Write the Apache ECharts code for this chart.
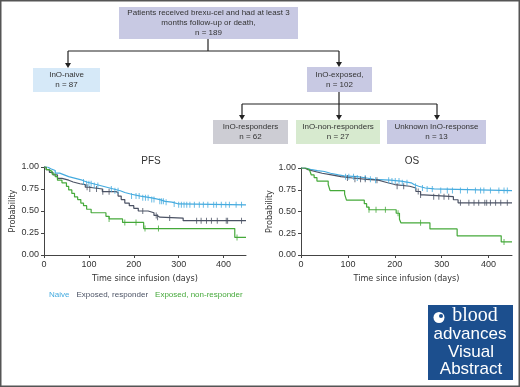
<!DOCTYPE html>
<html>
<head>
<meta charset="utf-8">
<script src="https://cdn.jsdelivr.net/npm/echarts@6/dist/echarts.min.js"></script>
<style>
  html, body { margin: 0; padding: 0; background: #fff; }
  #chart { width: 520px; height: 387px; }
</style>
</head>
<body>
<div id="chart"></div>
<script>
// 分组名称
const groupNames = ['Naive', 'Exposed, responder', 'Exposed, non-responder']
const groupColors = ['#45abdf', '#4b5264', '#45a93a']

// PFS 生存曲线 [天, 概率]
const pfsNaive = [[0, 1], [8, 0.98], [15, 0.96], [25, 0.93], [35, 0.91], [45, 0.89], [55, 0.87], [70, 0.85], [85, 0.83], [95, 0.81], [110, 0.79], [125, 0.77], [140, 0.75], [155, 0.73], [170, 0.71], [180, 0.69], [195, 0.67], [215, 0.65], [240, 0.63], [258, 0.61], [270, 0.60], [285, 0.58], [300, 0.57], [450, 0.57]]
const pfsResp = [[0, 1], [5, 0.97], [12, 0.94], [20, 0.91], [30, 0.87], [40, 0.85], [55, 0.83], [65, 0.81], [80, 0.80], [92, 0.77], [100, 0.75], [130, 0.72], [160, 0.71], [165, 0.67], [172, 0.63], [180, 0.59], [190, 0.56], [200, 0.53], [210, 0.50], [232, 0.48], [245, 0.45], [252, 0.43], [258, 0.42], [310, 0.39], [450, 0.39]]
const pfsNonResp = [[0, 1], [5, 0.97], [10, 0.95], [18, 0.92], [25, 0.89], [30, 0.85], [40, 0.82], [50, 0.78], [55, 0.74], [62, 0.70], [68, 0.66], [75, 0.63], [82, 0.59], [88, 0.56], [95, 0.52], [105, 0.48], [138, 0.44], [145, 0.41], [175, 0.37], [222, 0.30], [425, 0.20], [450, 0.20]]

// PFS 删失时间
const pfsNaiveCens = [88, 95, 100, 105, 112, 120, 150, 158, 165, 195, 205, 212, 220, 226, 232, 240, 245, 258, 262, 266, 272, 290, 300, 306, 312, 318, 325, 335, 346, 355, 365, 378, 384, 395, 405, 413, 428, 440]
const pfsRespCens = [96, 102, 117, 131, 145, 220, 250, 253, 280, 340, 350, 362, 373, 386, 406, 409, 440]
const pfsNonRespCens = [145, 180, 205, 225, 255, 430]

// OS 生存曲线
const osNaive = [[0, 1], [10, 0.985], [20, 0.97], [35, 0.96], [50, 0.94], [63, 0.92], [80, 0.91], [92, 0.90], [120, 0.885], [140, 0.87], [156, 0.86], [190, 0.85], [213, 0.83], [235, 0.81], [241, 0.79], [251, 0.77], [265, 0.76], [284, 0.74], [450, 0.74]]
const osResp = [[0, 1], [8, 0.98], [15, 0.96], [30, 0.94], [45, 0.92], [65, 0.90], [85, 0.885], [110, 0.87], [140, 0.86], [165, 0.845], [175, 0.83], [185, 0.81], [200, 0.79], [232, 0.77], [245, 0.73], [255, 0.69], [262, 0.67], [325, 0.635], [335, 0.60], [450, 0.60]]
const osNonResp = [[0, 1], [10, 0.98], [18, 0.96], [22, 0.92], [28, 0.89], [34, 0.85], [58, 0.81], [62, 0.74], [93, 0.70], [97, 0.63], [135, 0.59], [140, 0.55], [145, 0.52], [203, 0.48], [210, 0.41], [213, 0.37], [275, 0.30], [333, 0.22], [427, 0.15], [450, 0.15]]

// OS 删失时间
const osNaiveCens = [95, 102, 112, 120, 137, 148, 159, 187, 194, 201, 209, 216, 226, 244, 259, 269, 280, 298, 312, 323, 340, 355, 372, 383, 390, 404, 422, 433, 440]
const osRespCens = [99, 115, 127, 137, 162, 205, 219, 250, 255, 283, 294, 305, 315, 340, 358, 369, 379, 392, 396, 404, 415, 426, 440]
const osNonRespCens = [145, 160, 180, 207, 255, 433]

// 坐标轴刻度
const xTicks = [0, 100, 200, 300, 400]

const font = 'Liberation Sans, Arial, sans-serif'
const narrow = 'Liberation Sans Narrow, DejaVu Sans Condensed, sans-serif'

// 查找删失点所在曲线的概率
function survAt(curve, t) {
  let y = curve[0][1]
  for (const p of curve) {
    if (p[0] <= t) y = p[1]
    else break
  }
  return y
}

function curveSeries(idx, data, color, name) {
  return {
    name: name,
    type: 'line',
    step: 'end',
    xAxisIndex: idx,
    yAxisIndex: idx,
    data: data,
    showSymbol: false,
    lineStyle: { color: color, width: 1.2 },
    itemStyle: { color: color },
    z: 3
  }
}

function censorSeries(idx, curve, times, color, name) {
  return {
    name: name,
    type: 'scatter',
    xAxisIndex: idx,
    yAxisIndex: idx,
    data: times.map((t) => [t, survAt(curve, t)]),
    symbol: 'rect',
    symbolSize: [1, 6],
    itemStyle: { color: color },
    z: 4
  }
}

function xAxis(idx) {
  return {
    type: 'value',
    gridIndex: idx,
    min: 0,
    max: 450,
    name: 'Time since infusion (days)',
    nameLocation: 'middle',
    nameGap: 19,
    nameTextStyle: { fontFamily: narrow, fontSize: 9, color: '#333' },
    axisLine: { lineStyle: { color: '#444', width: 1 } },
    axisTick: { customValues: xTicks, length: 3, lineStyle: { color: '#444' } },
    axisLabel: { customValues: xTicks, fontFamily: font, fontSize: 9, color: '#333', margin: 5 },
    splitLine: { show: false }
  }
}

function yAxis(idx) {
  return {
    type: 'value',
    gridIndex: idx,
    min: 0,
    max: 1,
    interval: 0.25,
    name: 'Probability',
    nameLocation: 'middle',
    nameGap: 27,
    nameTextStyle: { fontFamily: narrow, fontSize: 9, color: '#333' },
    axisLine: { show: true, lineStyle: { color: '#444', width: 1 } },
    axisTick: { show: true, length: 3, lineStyle: { color: '#444' } },
    axisLabel: { fontFamily: font, fontSize: 9, color: '#333', margin: 5, formatter: (v) => v.toFixed(2) },
    splitLine: { show: false }
  }
}

// 流程图方框
function box(x, y, w, h, fill, text) {
  return {
    type: 'group',
    children: [
      { type: 'rect', shape: { x: x, y: y, width: w, height: h }, style: { fill: fill } },
      {
        type: 'text',
        style: {
          x: x + w / 2, y: y + h / 2, text: text,
          fill: '#333', font: '8px ' + font, lineHeight: 10,
          align: 'center', verticalAlign: 'middle'
        }
      }
    ]
  }
}

function line(points) {
  return { type: 'polyline', shape: { points: points }, style: { stroke: '#222', lineWidth: 1.2, fill: null } }
}

function arrowHead(x, tipY) {
  return { type: 'polygon', shape: { points: [[x - 3, tipY - 5], [x + 3, tipY - 5], [x, tipY]] }, style: { fill: '#222' } }
}

const chartInstance = echarts.init(document.getElementById('chart'))

const option = {
  animation: false,
  title: [
    { text: 'PFS', left: 146, top: 151, textAlign: 'center', textStyle: { fontFamily: font, fontSize: 10, fontWeight: 'normal', color: '#333' } },
    { text: 'OS', left: 407, top: 151, textAlign: 'center', textStyle: { fontFamily: font, fontSize: 10, fontWeight: 'normal', color: '#333' } }
  ],
  legend: {
    left: 39,
    top: 286,
    itemWidth: 0,
    itemHeight: 0,
    itemGap: 2,
    icon: 'rect',
    selectedMode: false,
    data: groupNames.map((n, i) => ({ name: n, textStyle: { color: groupColors[i], fontFamily: font, fontSize: 8 } }))
  },
  grid: [
    { left: 44, top: 167, width: 202, height: 88 },
    { left: 301, top: 168, width: 211, height: 87 }
  ],
  xAxis: [xAxis(0), xAxis(1)],
  yAxis: [yAxis(0), yAxis(1)],
  series: [
    curveSeries(0, pfsNaive, groupColors[0], groupNames[0]),
    curveSeries(0, pfsResp, groupColors[1], groupNames[1]),
    curveSeries(0, pfsNonResp, groupColors[2], groupNames[2]),
    censorSeries(0, pfsNaive, pfsNaiveCens, groupColors[0], groupNames[0]),
    censorSeries(0, pfsResp, pfsRespCens, groupColors[1], groupNames[1]),
    censorSeries(0, pfsNonResp, pfsNonRespCens, groupColors[2], groupNames[2]),
    curveSeries(1, osNaive, groupColors[0], groupNames[0]),
    curveSeries(1, osResp, groupColors[1], groupNames[1]),
    curveSeries(1, osNonResp, groupColors[2], groupNames[2]),
    censorSeries(1, osNaive, osNaiveCens, groupColors[0], groupNames[0]),
    censorSeries(1, osResp, osRespCens, groupColors[1], groupNames[1]),
    censorSeries(1, osNonResp, osNonRespCens, groupColors[2], groupNames[2])
  ],
  graphic: [
    // 外框
    { type: 'rect', shape: { x: 0.75, y: 0.75, width: 518.5, height: 385.5 }, style: { fill: null, stroke: '#555', lineWidth: 1.5 } },
    box(119, 7, 179, 32, '#c8c9e3', 'Patients received brexu-cel and had at least 3\nmonths follow-up or death,\nn = 189'),
    box(33, 68, 67, 24, '#d6e9f8', 'InO-naive\nn = 87'),
    box(307, 67, 65, 25, '#c8c9e3', 'InO-exposed,\nn = 102'),
    box(213, 120, 75, 24, '#cdcdd4', 'InO-responders\nn = 62'),
    box(296, 120, 84, 24, '#d7eacf', 'InO-non-responders\nn = 27'),
    box(387, 120, 99, 24, '#c8c9e3', 'Unknown InO-response\nn = 13'),
    line([[208, 39], [208, 51]]),
    line([[68, 51], [339, 51]]),
    line([[68, 51], [68, 64]]),
    line([[339, 51], [339, 63]]),
    arrowHead(68, 68),
    arrowHead(339, 67),
    line([[339, 92], [339, 104]]),
    line([[242, 104], [437, 104]]),
    line([[242, 104], [242, 116]]),
    line([[339, 104], [339, 116]]),
    line([[437, 104], [437, 116]]),
    arrowHead(242, 120),
    arrowHead(339, 120),
    arrowHead(437, 120),
    // 期刊标志
    { type: 'rect', shape: { x: 428, y: 305, width: 85, height: 75 }, style: { fill: '#1c4f8e' } },
    { type: 'circle', shape: { cx: 439, cy: 317.5, r: 5.5 }, style: { fill: '#fff' } },
    { type: 'circle', shape: { cx: 441, cy: 316, r: 2 }, style: { fill: '#1c4f8e' } },
    { type: 'text', style: { x: 475, y: 326, text: 'blood', fill: '#fff', font: '20px Liberation Serif, serif', align: 'center', verticalAlign: 'bottom' } },
    { type: 'text', style: { x: 470, y: 343, text: 'advances', fill: '#fff', font: '17px ' + font, align: 'center', verticalAlign: 'bottom' } },
    { type: 'text', style: { x: 471, y: 361, text: 'Visual', fill: '#fff', font: '17px ' + font, align: 'center', verticalAlign: 'bottom' } },
    { type: 'text', style: { x: 471, y: 378, text: 'Abstract', fill: '#fff', font: '17px ' + font, align: 'center', verticalAlign: 'bottom' } }
  ]
}

chartInstance.setOption(option)
</script>
</body>
</html>
